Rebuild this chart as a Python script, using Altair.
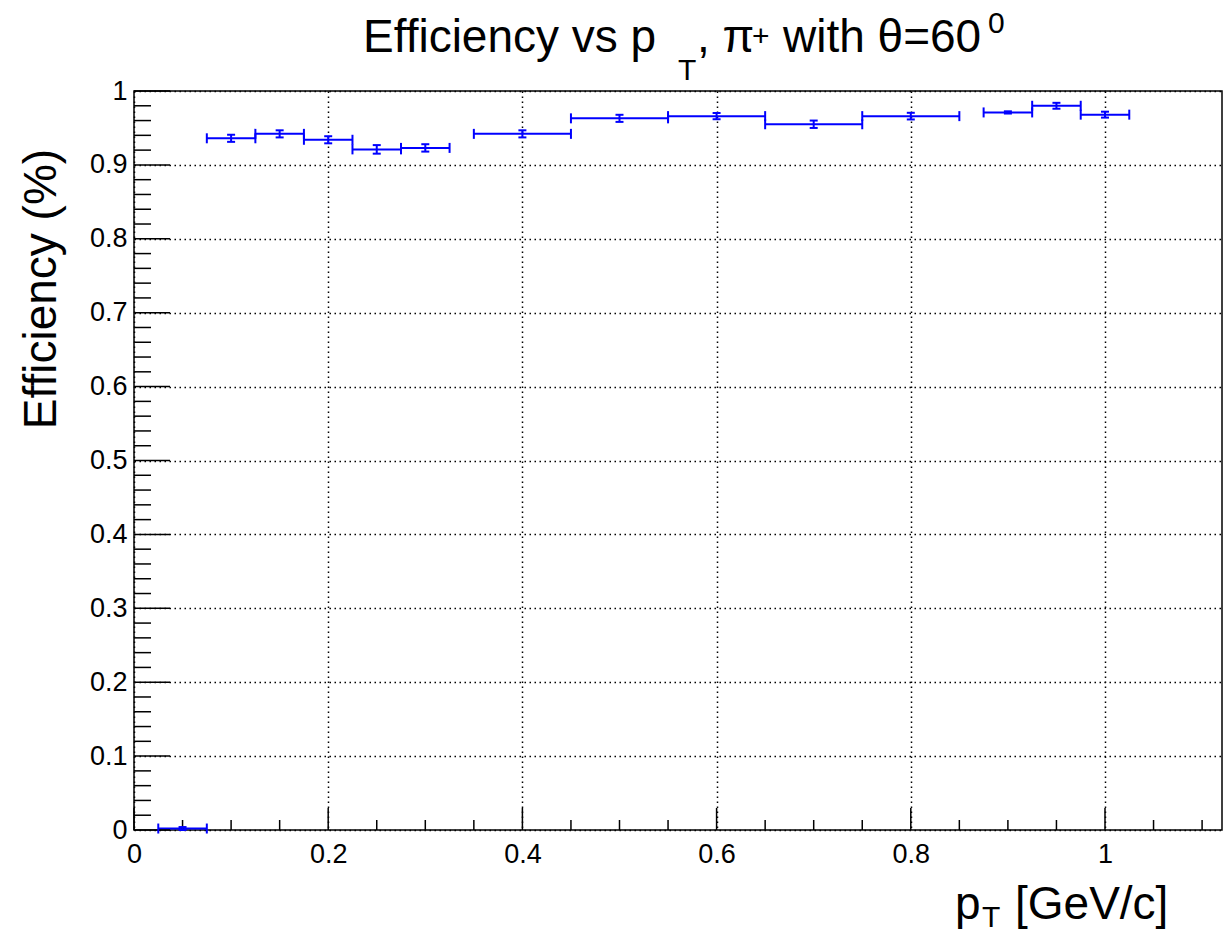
import altair as alt
import pandas as pd

# ---- data ----
pt = [0.05, 0.10, 0.15, 0.20, 0.25, 0.30, 0.40, 0.50, 0.60, 0.70, 0.80, 0.90, 0.95, 1.00]
pt_lo = [0.025, 0.075, 0.125, 0.175, 0.225, 0.275, 0.35, 0.45, 0.55, 0.65, 0.75, 0.875, 0.925, 0.975]
pt_hi = [0.075, 0.125, 0.175, 0.225, 0.275, 0.325, 0.45, 0.55, 0.65, 0.75, 0.85, 0.925, 0.975, 1.025]
eff = [0.002, 0.936, 0.942, 0.934, 0.921, 0.923, 0.942, 0.963, 0.966, 0.955, 0.966, 0.971, 0.980, 0.968]
eff_err = [0.002, 0.0048, 0.0048, 0.0048, 0.0058, 0.005, 0.0048, 0.0048, 0.0042, 0.005, 0.0045, 0.0015, 0.004, 0.004]

x_labels = [0, 0.2, 0.4, 0.6, 0.8, 1.0]
y_labels = [0, 0.1, 0.2, 0.3, 0.4, 0.5, 0.6, 0.7, 0.8, 0.9, 1.0]
x_minor = [round(i * 0.05, 2) for i in range(1, 23) if i % 4]
y_minor = [round(i * 0.02, 2) for i in range(1, 50) if i % 5]
x_max = 1.1205

df = pd.DataFrame({
    "pt": pt, "lo": pt_lo, "hi": pt_hi, "eff": eff,
    "elo": [e - d for e, d in zip(eff, eff_err)],
    "ehi": [e + d for e, d in zip(eff, eff_err)],
})

W, H = 1088, 739
FONT = "Liberation Sans"
BLUE = "#0000ff"

xs = alt.Scale(domain=[0, x_max], nice=False, zero=False)
ys = alt.Scale(domain=[0, 1], nice=False, zero=False)

grid_common = dict(grid=True, gridColor="black", gridDash=[1.5, 3.5], gridWidth=1.5,
                   gridOpacity=1, ticks=False, tickSize=0, domain=False,
                   labelFont=FONT, labelFontSize=27, labelColor="black",
                   labelFlush=False, labelOverlap=False, format="~g", title=None)
x_axis = alt.Axis(values=x_labels, labelPadding=11, **grid_common)
y_axis = alt.Axis(values=y_labels, labelPadding=7, **grid_common)


def X(f):
    return alt.X(f, scale=xs, axis=x_axis, title=None)


def Y(f):
    return alt.Y(f, scale=ys, axis=y_axis, title=None)


hbars = alt.Chart(df).mark_rule(color=BLUE, strokeWidth=2).encode(
    x=X("lo:Q"), x2="hi:Q", y=Y("eff:Q"))
hcap_lo = alt.Chart(df).mark_tick(color=BLUE, orient="vertical", size=10, thickness=2, opacity=1).encode(
    x=X("lo:Q"), y=Y("eff:Q"))
hcap_hi = alt.Chart(df).mark_tick(color=BLUE, orient="vertical", size=10, thickness=2, opacity=1).encode(
    x=X("hi:Q"), y=Y("eff:Q"))
vbars = alt.Chart(df).mark_rule(color=BLUE, strokeWidth=2).encode(
    x=X("pt:Q"), y=Y("elo:Q"), y2="ehi:Q")
vcap_lo = alt.Chart(df).mark_tick(color=BLUE, orient="horizontal", size=8, thickness=2, opacity=1).encode(
    x=X("pt:Q"), y=Y("elo:Q"))
vcap_hi = alt.Chart(df).mark_tick(color=BLUE, orient="horizontal", size=8, thickness=2, opacity=1).encode(
    x=X("pt:Q"), y=Y("ehi:Q"))

# inward axis ticks (ROOT style)
ymaj = alt.Chart(pd.DataFrame({"v": y_labels})).mark_rule(color="black", strokeWidth=1.5).encode(
    y=Y("v:Q"), x=alt.value(0), x2=alt.value(36))
ymin = alt.Chart(pd.DataFrame({"v": y_minor})).mark_rule(color="black", strokeWidth=1.5).encode(
    y=Y("v:Q"), x=alt.value(0), x2=alt.value(17))
xmaj = alt.Chart(pd.DataFrame({"v": x_labels})).mark_rule(color="black", strokeWidth=1.5).encode(
    x=X("v:Q"), y=alt.value(H), y2=alt.value(H - 22))
xmin = alt.Chart(pd.DataFrame({"v": x_minor})).mark_rule(color="black", strokeWidth=1.5).encode(
    x=X("v:Q"), y=alt.value(H), y2=alt.value(H - 10))


def txt(s, x, y, size, angle=0, align="left"):
    kw = dict(text=s, font=FONT, fontSize=size, align=align, baseline="alphabetic", color="black")
    if angle:
        kw["angle"] = angle
    return alt.Chart(alt.Data(values=[{"a": 1}])).mark_text(**kw).encode(
        x=alt.value(x), y=alt.value(y))


# text anchors relative to the plot origin (page x 134, y 91)
texts = [
    txt("Efficiency vs p", 229, -39, 46),
    txt("T", 544, -11, 30),
    txt(", \u03c0", 563, -39, 46),
    txt("+", 618, -45, 30),
    txt("with \u03b8=60", 649, -39, 46),
    txt("0", 854, -58, 30),
    txt("Efficiency (%)", -78, 198, 46, angle=270, align="center"),
    txt("p", 821, 828, 46),
    txt("T", 848, 836, 30),
    txt("[GeV/c]", 881, 828, 46),
]

chart = alt.layer(hbars, ymaj, ymin, xmaj, xmin, hcap_lo, hcap_hi, vbars, vcap_lo, vcap_hi, *texts).properties(
    width=W, height=H,
    padding={"left": 126, "top": 83, "right": 1, "bottom": 99},
    autosize=alt.AutoSizeParams(type="none"),
).configure_view(stroke="black", strokeWidth=1.5)

chart.save("out.html", embed_options={"renderer": "svg", "actions": False})
